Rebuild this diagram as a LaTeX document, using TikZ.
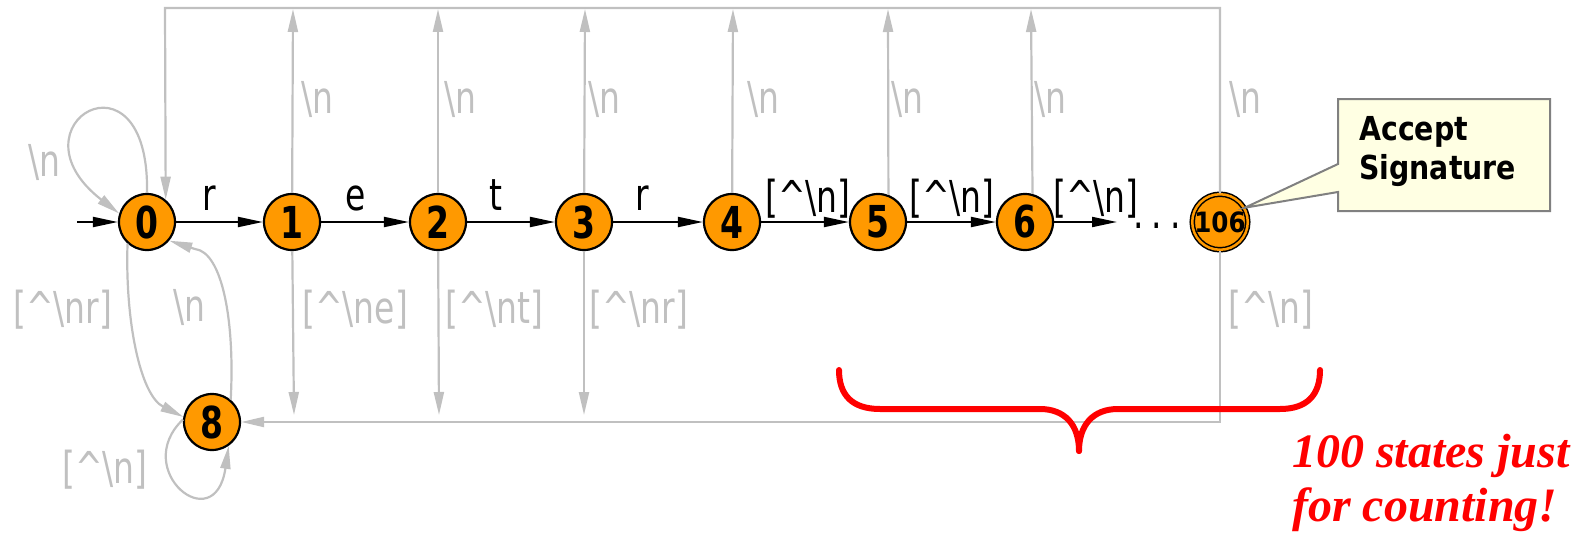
\documentclass[tikz,border=0pt]{standalone}
\usepackage{fontspec}
\usetikzlibrary{arrows.meta,calc}
\newfontfamily\lblfont[FakeStretch=0.75]{DejaVu Sans}
\newfontfamily\numfont[FakeStretch=0.75]{DejaVu Sans}
\newfontfamily\smallnumfont[FakeStretch=0.88]{DejaVu Sans}
\newfontfamily\accfont[FakeStretch=0.86]{DejaVu Sans}
\newfontfamily\redfont{Liberation Serif}
\definecolor{stateorange}{HTML}{FF9900}
\definecolor{edgegray}{HTML}{C0C0C0}
\definecolor{notefill}{HTML}{FFFFE3}
\definecolor{noteline}{HTML}{808080}
\begin{document}
\begin{tikzpicture}[x=1pt,y=-1pt,
  state/.style={circle, draw=black, line width=2.2pt, fill=stateorange, minimum size=56pt, inner sep=0pt,
    font={\numfont\bfseries\fontsize{44}{48}\selectfont}},
  acceptstate/.style={circle, draw=black, line width=1.5pt, double=stateorange, double distance=2.5pt,
    fill=stateorange, minimum size=51pt, inner sep=0pt,
    font={\smallnumfont\bfseries\fontsize{28}{30}\selectfont}},
  bedge/.style={draw=black, line width=2pt, -{Triangle[length=25pt,width=10pt]}},
  gedge/.style={draw=edgegray, line width=2.2pt, line join=miter, -{Triangle[length=23pt,width=10pt]}},
  glabel/.style={text=edgegray, inner sep=0pt, font={\lblfont\fontsize{44}{48}\selectfont}},
  blabel/.style={text=black, inner sep=0pt, font={\lblfont\fontsize{44}{48}\selectfont}},
  brace/.style={draw=red, line width=6pt, line cap=round, line join=round},
  callout/.style={draw=noteline, fill=notefill, line width=2pt, line join=miter},
]
\useasboundingbox (0,0) rectangle (1585,535);

% states
\node[state] (n0) at (147,222) {0};
\node[state] (n1) at (292,222) {1};
\node[state] (n2) at (438,222) {2};
\node[state] (n3) at (584,222) {3};
\node[state] (n4) at (732,222) {4};
\node[state] (n5) at (878,222) {5};
\node[state] (n6) at (1025,222) {6};
\node[acceptstate] (n106) at (1220,222) {106};
\node[state] (n8) at (212,422) {8};
\node[blabel, anchor=west, inner xsep=0pt] (dots) at (1117,226) {\hspace{16pt}.\hspace{8pt}.\hspace{8pt}.};

% helper coordinates
\coordinate (init) at (77,222);
\coordinate (tl) at (165,8);
\coordinate (tr) at (1220,8);
\coordinate (br) at (1220,422);
\coordinate (t1) at (293,9);
\coordinate (t2) at (438,9);
\coordinate (t3) at (585,9);
\coordinate (t4) at (733,9);
\coordinate (t5) at (888,9);
\coordinate (t6) at (1031,9);
\coordinate (b1) at (294,415);
\coordinate (b2) at (439,415);
\coordinate (b3) at (584,415);

% black chain
\draw[bedge] (init) -- (n0);
\draw[bedge] (n0) -- (n1);
\draw[bedge] (n1) -- (n2);
\draw[bedge] (n2) -- (n3);
\draw[bedge] (n3) -- (n4);
\draw[bedge] (n4) -- (n5);
\draw[bedge] (n5) -- (n6);
\draw[bedge] (n6) -- (n6 -| dots.west);

\node[blabel, anchor=base] at (209,210) {r};
\node[blabel, anchor=base] at (356,210) {e};
\node[blabel, anchor=base] at (496,210) {t};
\node[blabel, anchor=base] at (642,210) {r};
\node[blabel, anchor=base] at (808,212) {[\textasciicircum\textbackslash n]};
\node[blabel, anchor=base] at (952,212) {[\textasciicircum\textbackslash n]};
\node[blabel, anchor=base] at (1096,212) {[\textasciicircum\textbackslash n]};

% gray edges up
\draw[gedge] (n1) -- (t1);
\draw[gedge] (n2) -- (t2);
\draw[gedge] (n3) -- (t3);
\draw[gedge] (n4) -- (t4);
\draw[gedge] (n5.69) -- (t5);
\draw[gedge] (n6.75) -- (t6);
\draw[gedge] (n106.north) -- (tr) -- (tl) -- (n0.50);

% gray edges down
\draw[gedge] (n1) -- (b1);
\draw[gedge] (n2) -- (b2);
\draw[gedge] (n3) -- (b3);
\draw[gedge] (n106.south) -- (br) -- (n8.east);

% loops and 0<->8
\draw[gedge] (n0.north) .. controls (150,40) and (5,125) .. (n0.163);
\draw[gedge] (n0.228) .. controls (125,320) and (140,395) .. (n8.170);
\draw[gedge] (n8.50) .. controls (235,320) and (222,252) .. (195,249) -- (n0.-40);
\draw[gedge] (n8.175) .. controls (130,470) and (215,540) .. (n8.-55);

% gray labels
\node[glabel, anchor=base west] at (28,176) {\textbackslash n};
\node[glabel, anchor=base west] at (301,113) {\textbackslash n};
\node[glabel, anchor=base west] at (444,113) {\textbackslash n};
\node[glabel, anchor=base west] at (588,113) {\textbackslash n};
\node[glabel, anchor=base west] at (747,113) {\textbackslash n};
\node[glabel, anchor=base west] at (891,113) {\textbackslash n};
\node[glabel, anchor=base west] at (1034,113) {\textbackslash n};
\node[glabel, anchor=base west] at (1229,113) {\textbackslash n};
\node[glabel, anchor=west] at (13,310) {[\textasciicircum\textbackslash nr]};
\node[glabel, anchor=west] at (173,308) {\textbackslash n};
\node[glabel, anchor=west] at (302,310) {[\textasciicircum\textbackslash ne]};
\node[glabel, anchor=west] at (445,310) {[\textasciicircum\textbackslash nt]};
\node[glabel, anchor=west] at (589,310) {[\textasciicircum\textbackslash nr]};
\node[glabel, anchor=west] at (1228,310) {[\textasciicircum\textbackslash n]};
\node[glabel, anchor=west] at (62,470) {[\textasciicircum\textbackslash n]};

% callout
\coordinate (cnw) at (1338,99);
\coordinate (cse) at (1550,211);
\draw[callout] (cnw) -- (cnw -| cse) -- (cse) -- (cse -| cnw) -- (1338,192) -- (n106.30) -- (1338,164) -- cycle;
\node[anchor=north west, align=left, inner sep=0pt, font={\accfont\bfseries\fontsize{33}{39}\selectfont}] (acc) at (1359,116) {Accept\\Signature};

% brace
\draw[brace] (839,370) .. controls (839,395) and (852,409) .. (880,409) -- (1040,409)
  .. controls (1065,409) and (1079,425) .. (1079,451);
\draw[brace] (1320,370) .. controls (1320,395) and (1307,409) .. (1280,409) -- (1118,409)
  .. controls (1093,409) and (1079,425) .. (1079,451);

\node[anchor=north west, align=left, inner sep=0pt, text=red,
  font={\redfont\bfseries\itshape\fontsize{48}{54}\selectfont}] (note) at (1292,434) {100 states just\\for counting!};
\end{tikzpicture}
\end{document}
